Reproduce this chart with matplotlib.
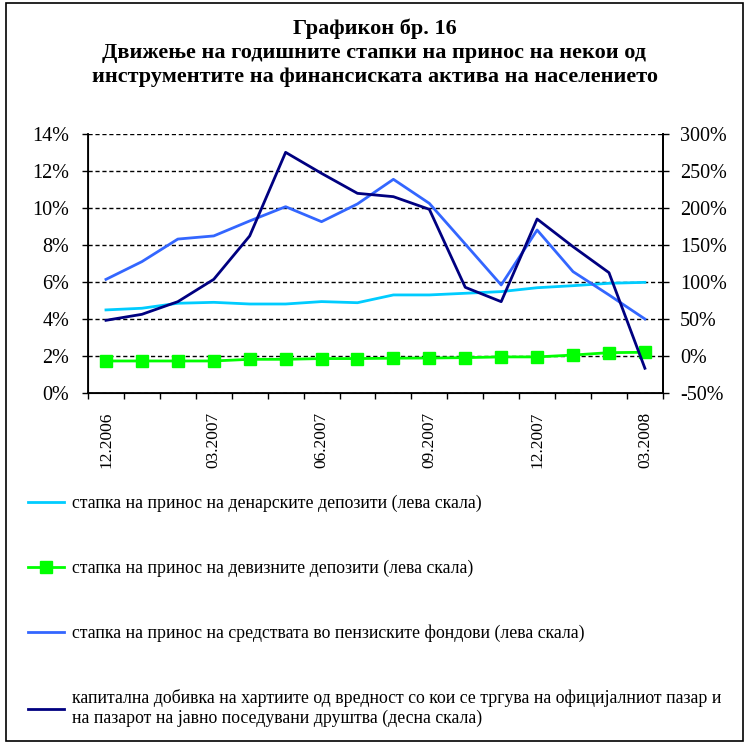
import matplotlib
matplotlib.use("Agg")
import matplotlib.pyplot as plt
from matplotlib.patches import Rectangle
from matplotlib.ticker import FuncFormatter, FixedLocator
import numpy as np

plt.rcParams['font.family'] = ['Liberation Serif', 'DejaVu Serif']

months = ['12.2006', '01.2007', '02.2007', '03.2007', '04.2007', '05.2007',
          '06.2007', '07.2007', '08.2007', '09.2007', '10.2007', '11.2007',
          '12.2007', '01.2008', '02.2008', '03.2008']

# left scale (%)
denar = [4.49, 4.58, 4.85, 4.90, 4.81, 4.81, 4.94, 4.88, 5.30, 5.30,
         5.39, 5.48, 5.69, 5.80, 5.93, 5.98]
foreign = [1.73, 1.73, 1.73, 1.73, 1.82, 1.82, 1.86, 1.86, 1.88, 1.89,
           1.91, 1.95, 1.95, 2.05, 2.18, 2.20]
pension = [6.14, 7.10, 8.32, 8.49, 9.30, 10.07, 9.26, 10.22, 11.55, 10.25,
           8.05, 5.84, 8.81, 6.56, 5.30, 4.00]
# right scale (%)
capital = [48.2, 56.3, 73.4, 103.6, 162.2, 275.2, 246.8, 219.8, 215.3, 198.2,
           92.8, 73.4, 185.1, 147.7, 112.6, -16.6]

labels = ['стапка на принос на денарските депозити (лева скала)',
          'стапка на принос на девизните депозити (лева скала)',
          'стапка на принос на средствата во пензиските фондови (лева скала)',
          'капитална добивка на хартиите од вредност со кои се тргува на официјалниот пазар и\n'
          'на пазарот на јавно поседувани друштва (десна скала)']

fig = plt.figure(figsize=(7.49, 7.44), dpi=100)
ax = fig.add_axes([0.1175, 0.4718, 0.7675, 0.3481])
x = np.arange(len(months))

l1, = ax.plot(x, denar, color='#00CCFF', lw=2.0)
l2, = ax.plot(x, foreign, color='#00FF00', lw=2.0, marker='s', ms=8)
l3, = ax.plot(x, pension, color='#3366FF', lw=2.0)
ax.set_ylim(0, 14)
ax.set_yticks(np.arange(0, 15, 2))
ax.yaxis.set_major_formatter(FuncFormatter(lambda v, p: '%d%%' % v))
ax.set_xlim(-0.5, len(months) - 0.5)
ax.set_xticks(x[::3])
ax.set_xticklabels(months[::3], rotation=90)
ax.xaxis.set_minor_locator(FixedLocator(np.arange(-0.5, len(months), 1)))
ax.tick_params(axis='x', which='major', length=0, pad=13.5, labelsize=12.5)
ax.tick_params(axis='x', which='minor', length=4, width=1)
ax.tick_params(axis='y', length=4.5, width=1, labelsize=14.5, pad=9)
ax.grid(axis='y', color='black', ls=(0, (3, 2)), lw=1)
ax.spines['top'].set_visible(False)
for s in ['left', 'bottom', 'right']:
    ax.spines[s].set_linewidth(1.3)

ax2 = ax.twinx()
l4, = ax2.plot(x, capital, color='#000080', lw=2.0)
ax2.set_ylim(-50, 300)
ax2.set_yticks(np.arange(-50, 301, 50))
ax2.yaxis.set_major_formatter(FuncFormatter(lambda v, p: '%d%%' % v))
ax2.tick_params(axis='y', length=4.5, width=1, labelsize=14.5, pad=8)
ax2.spines['top'].set_visible(False)
ax2.spines['right'].set_linewidth(1.3)

fig.text(0.5, 0.961, 'Графикон бр. 16', ha='center', va='center',
         fontsize=16, fontweight='bold')
fig.text(0.5, 0.929, 'Движење на годишните стапки на принос на некои од',
         ha='center', va='center', fontsize=16, fontweight='bold')
fig.text(0.5, 0.897, 'инструментите на финансиската актива на населението',
         ha='center', va='center', fontsize=16, fontweight='bold')

fig.legend([l1, l2, l3, l4], labels, loc='upper left',
           bbox_to_anchor=(0.016, 0.3565), frameon=False, fontsize=12.8,
           labelspacing=2.67, handlelength=2.05, handletextpad=0.4)

fig.patches.append(Rectangle((0.008, 0.004), 0.984, 0.992, transform=fig.transFigure,
                             fill=False, edgecolor='black', lw=1.2))

fig.savefig('out.png', dpi=100)
